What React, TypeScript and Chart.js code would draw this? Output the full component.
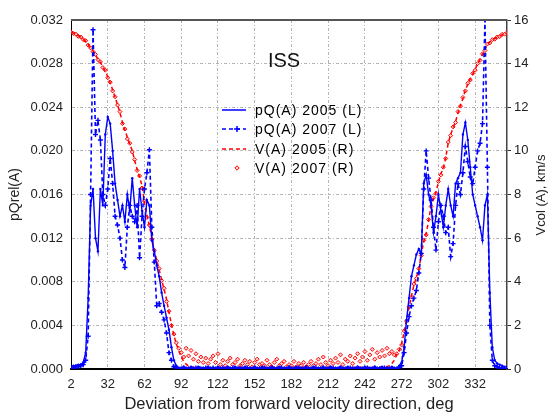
import { useEffect, useRef } from 'react';
import { Chart, registerables } from 'chart.js';

Chart.register(...registerables);

// ---------- data ----------
const degrees = [
  2, 4, 6, 8, 10, 12, 14, 16, 18, 20,
  22, 24, 26, 28, 30, 32, 34, 36, 38, 40,
  42, 44, 46, 48, 50, 52, 54, 56, 58, 60,
  62, 64, 66, 68, 70, 72, 74, 76, 78, 80,
  82, 84, 86, 88, 90, 92, 94, 96, 98, 100,
  102, 104, 106, 108, 110, 112, 114, 116, 118, 120,
  122, 124, 126, 128, 130, 132, 134, 136, 138, 140,
  142, 144, 146, 148, 150, 152, 154, 156, 158, 160,
  162, 164, 166, 168, 170, 172, 174, 176, 178, 180,
  182, 184, 186, 188, 190, 192, 194, 196, 198, 200,
  202, 204, 206, 208, 210, 212, 214, 216, 218, 220,
  222, 224, 226, 228, 230, 232, 234, 236, 238, 240,
  242, 244, 246, 248, 250, 252, 254, 256, 258, 260,
  262, 264, 266, 268, 270, 272, 274, 276, 278, 280,
  282, 284, 286, 288, 290, 292, 294, 296, 298, 300,
  302, 304, 306, 308, 310, 312, 314, 316, 318, 320,
  322, 324, 326, 328, 330, 332, 334, 336, 338, 340,
  342, 344, 346, 348, 350, 352, 354, 356, 358,
];

const pQ2005 = [
  .0002, .0003, .0003, .0004, .0004, .0006, .0015, .0065, .0150, .0165,
  .0120, .0108, .0165, .0150, .0215, .0231, .0225, .0200, .0170, .0155,
  .0140, .0150, .0135, .0160, .0145, .0175, .0150, .0130, .0165, .0145,
  .0130, .0155, .0150, .0118, .0108, .0095, .0085, .0070, .0058, .0047,
  .0036, .0020, .0008, .0003, .0001, .0001, .0002, .0001, .0001, .0002,
  .0001, .0001, .0002, .0001, .0001, .0001, .0002, .0001, .0001, .0001,
  .0002, .0001, .0001, .0001, .0002, .0001, .0001, .0002, .0001, .0001,
  .0001, .0002, .0001, .0001, .0001, .0002, .0001, .0001, .0002, .0001,
  .0001, .0001, .0002, .0001, .0001, .0002, .0001, .0001, .0001, .0002,
  .0001, .0001, .0002, .0001, .0001, .0001, .0002, .0001, .0001, .0002,
  .0001, .0001, .0001, .0002, .0001, .0001, .0002, .0001, .0001, .0001,
  .0002, .0001, .0001, .0002, .0001, .0001, .0001, .0002, .0001, .0001,
  .0002, .0001, .0001, .0001, .0002, .0001, .0001, .0002, .0001, .0001,
  .0001, .0002, .0001, .0001, .0003, .0006, .0020, .0045, .0065, .0085,
  .0095, .0105, .0110, .0105, .0170, .0178, .0160, .0150, .0125, .0140,
  .0160, .0145, .0130, .0150, .0165, .0150, .0140, .0170, .0175, .0180,
  .0215, .0226, .0210, .0185, .0160, .0150, .0140, .0130, .0118, .0150,
  .0160, .0070, .0020, .0008, .0005, .0004, .0003, .0002, .0002,
];

const pQ2007 = [
  0, .0001, .0002, .0002, .0003, .0004, .0008, .0030, .0160, .0311,
  .0215, .0228, .0210, .0160, .0150, .0165, .0193, .0170, .0140, .0132,
  .0120, .0100, .0093, .0130, .0150, .0140, .0135, .0150, .0102, .0140,
  .0165, .0180, .0201, .0130, .0098, .0058, .0060, .0052, .0045, .0033,
  .0015, .0008, .0002, .0001, 0, 0, .0001, 0, 0, 0,
  0, .0001, 0, 0, 0, .0001, 0, 0, .0001, 0,
  0, 0, .0001, 0, 0, 0, .0001, 0, 0, .0001,
  0, 0, .0001, 0, 0, .0001, 0, 0, 0, .0001,
  0, 0, .0001, 0, 0, 0, .0001, 0, 0, .0001,
  0, 0, 0, .0001, 0, 0, .0001, 0, 0, 0,
  .0001, 0, 0, .0001, 0, 0, 0, .0001, 0, 0,
  .0001, 0, 0, 0, .0001, 0, 0, .0001, 0, 0,
  0, .0001, 0, 0, .0001, 0, 0, 0, .0001, 0,
  0, 0, 0, 0, .0001, .0003, .0015, .0033, .0048, .0058,
  .0065, .0072, .0088, .0106, .0165, .0200, .0175, .0155, .0130, .0109,
  .0135, .0150, .0140, .0125, .0130, .0103, .0115, .0150, .0170, .0160,
  .0180, .0204, .0190, .0176, .0170, .0185, .0200, .0207, .0225, .0320,
  .0185, .0040, .0008, .0003, .0002, .0001, .0001, 0, 0,
];

const v2005 = [
  15.42, 15.40, 15.33, 15.28, 15.20, 15.12, 15.02, 14.88, 14.70, 14.58,
  14.40, 14.20, 14.05, 13.85, 13.65, 13.40, 13.12, 12.80, 12.45, 12.12,
  11.75, 11.30, 10.95, 10.62, 10.30, 10.02, 9.55, 9.15, 8.80, 8.40,
  7.60, 7.05, 6.55, 6.05, 5.40, 5.00, 4.55, 4.10, 3.65, 3.20,
  2.60, 2.05, 1.55, 1.15, 0.85, 0.55, 0.35, 0.22, 0.14, 0.10,
  0.08, 0.07, 0.09, 0.06, 0.08, 0.07, 0.06, 0.08, 0.07, 0.06,
  0.07, 0.06, 0.08, 0.06, 0.05, 0.07, 0.06, 0.05, 0.06, 0.07,
  0.05, 0.06, 0.05, 0.07, 0.05, 0.06, 0.05, 0.05, 0.06, 0.05,
  0.05, 0.06, 0.05, 0.05, 0.06, 0.05, 0.05, 0.05, 0.06, 0.05,
  0.05, 0.05, 0.06, 0.05, 0.05, 0.06, 0.05, 0.05, 0.06, 0.05,
  0.06, 0.05, 0.05, 0.06, 0.05, 0.06, 0.07, 0.05, 0.06, 0.06,
  0.07, 0.06, 0.06, 0.07, 0.06, 0.08, 0.07, 0.06, 0.08, 0.07,
  0.08, 0.07, 0.09, 0.08, 0.07, 0.09, 0.08, 0.10, 0.09, 0.11,
  0.15, 0.25, 0.40, 0.65, 0.85, 1.15, 1.70, 2.25, 2.80, 3.35,
  3.85, 4.20, 4.55, 5.25, 5.85, 6.20, 6.80, 7.50, 7.80, 8.10,
  8.55, 8.95, 9.20, 9.70, 10.35, 10.75, 11.05, 11.35, 11.75, 12.10,
  12.40, 12.80, 13.05, 13.30, 13.52, 13.75, 13.97, 14.20, 14.42, 14.65,
  14.87, 15.00, 15.08, 15.15, 15.20, 15.26, 15.32, 15.36, 15.40,
];

const v2007 = [
  15.45, 15.38, 15.35, 15.25, 15.22, 15.10, 15.05, 14.85, 14.72, 14.55,
  14.42, 14.18, 14.08, 13.82, 13.70, 13.35, 13.15, 12.75, 12.48, 12.10,
  11.80, 11.25, 11.00, 10.55, 10.35, 9.95, 9.60, 9.10, 8.85, 8.30,
  7.70, 6.95, 6.60, 5.95, 5.45, 4.95, 4.60, 4.05, 3.70, 3.10,
  2.65, 2.00, 1.60, 1.20, 0.95, 0.75, 0.55, 0.95, 0.60, 0.85,
  0.45, 0.70, 0.35, 0.55, 0.30, 0.50, 0.25, 0.45, 0.60, 0.30,
  0.70, 0.20, 0.40, 0.15, 0.35, 0.50, 0.20, 0.30, 0.45, 0.15,
  0.25, 0.40, 0.20, 0.35, 0.10, 0.30, 0.45, 0.20, 0.25, 0.15,
  0.40, 0.20, 0.10, 0.30, 0.45, 0.15, 0.25, 0.35, 0.10, 0.20,
  0.15, 0.35, 0.10, 0.25, 0.15, 0.30, 0.10, 0.20, 0.35, 0.15,
  0.25, 0.45, 0.20, 0.55, 0.30, 0.15, 0.40, 0.25, 0.50, 0.30,
  0.65, 0.20, 0.45, 0.35, 0.60, 0.25, 0.50, 0.70, 0.35, 0.55,
  0.80, 0.40, 0.65, 0.90, 0.45, 0.75, 0.55, 0.85, 0.60, 0.95,
  0.70, 0.80, 0.65, 0.70, 0.90, 1.10, 1.75, 2.20, 2.85, 3.30,
  3.90, 4.15, 4.60, 5.20, 5.90, 6.15, 6.85, 7.45, 7.85, 8.05,
  8.60, 8.90, 9.25, 9.65, 10.40, 10.70, 11.10, 11.30, 11.80, 12.05,
  12.45, 12.75, 13.10, 13.25, 13.55, 13.70, 14.00, 14.15, 14.45, 14.60,
  14.90, 14.95, 15.10, 15.12, 15.22, 15.24, 15.34, 15.35, 15.42,
];

const xTicks = [2, 32, 62, 92, 122, 152, 182, 212, 242, 272, 302, 332];
const yLeftTicks = [0, 0.004, 0.008, 0.012, 0.016, 0.02, 0.024, 0.028, 0.032];
const yRightTicks = [0, 2, 4, 6, 8, 10, 12, 14, 16];

const seriesNames = ['pQ(A) 2005 (L)', 'pQ(A) 2007 (L)', 'V(A) 2005 (R)', 'V(A) 2007 (R)'];
const chartTitle = 'ISS';
const xTitle = 'Deviation from forward velocity direction, deg';
const yLeftTitle = 'pQrel(A)';
const yRightTitle = 'Vcol (A), km/s';

const FONT = "'Liberation Sans', Arial, sans-serif";
const BLUE = '#0000ff';
const RED = '#ff0000';

const toPoints = (ys: number[]) => degrees.map((x, i) => ({ x, y: ys[i] }));

const overlayPlugin = {
  id: 'overlay',
  afterDraw(chart: any) {
    const { ctx, chartArea: a } = chart;
    ctx.save();
    // top frame line
    ctx.strokeStyle = '#555';
    ctx.lineWidth = 2;
    ctx.beginPath();
    ctx.moveTo(a.left, a.top);
    ctx.lineTo(a.right, a.top);
    ctx.stroke();

    // title inside plot
    ctx.fillStyle = '#111';
    ctx.textAlign = 'center';
    ctx.textBaseline = 'middle';
    ctx.font = `20px ${FONT}`;
    ctx.fillText(chartTitle, 284, 61);

    // legend
    const rows = [110, 129, 149, 168];
    const x0 = 222, x1 = 246, tx = 255;
    ctx.textAlign = 'left';
    ctx.font = `14px ${FONT}`;
    (ctx as any).letterSpacing = '1px';
    rows.forEach((y, i) => {
      ctx.save();
      ctx.lineWidth = 1.5;
      if (i === 0) {
        ctx.strokeStyle = BLUE;
        ctx.beginPath(); ctx.moveTo(x0, y); ctx.lineTo(x1, y); ctx.stroke();
      } else if (i === 1) {
        ctx.strokeStyle = BLUE;
        ctx.setLineDash([4, 3]);
        ctx.beginPath(); ctx.moveTo(x0, y); ctx.lineTo(x1, y); ctx.stroke();
        ctx.setLineDash([]);
        ctx.beginPath();
        ctx.moveTo(234, y); ctx.lineTo(240, y);
        ctx.moveTo(237, y - 3); ctx.lineTo(237, y + 3);
        ctx.stroke();
      } else if (i === 2) {
        ctx.strokeStyle = RED;
        ctx.setLineDash([4, 3]);
        ctx.beginPath(); ctx.moveTo(x0, y); ctx.lineTo(x1, y); ctx.stroke();
      } else {
        ctx.strokeStyle = RED;
        ctx.fillStyle = 'rgba(255,180,180,0.6)';
        ctx.lineWidth = 1;
        ctx.beginPath();
        ctx.moveTo(237, y - 2.2); ctx.lineTo(239.2, y); ctx.lineTo(237, y + 2.2); ctx.lineTo(234.8, y);
        ctx.closePath(); ctx.fill(); ctx.stroke();
      }
      ctx.restore();
      ctx.fillStyle = '#000';
      ctx.fillText(seriesNames[i], tx, y + 1);
    });
    (ctx as any).letterSpacing = '0px';

    // right axis title (reads bottom to top)
    ctx.translate(541, 195);
    ctx.rotate(-Math.PI / 2);
    ctx.textAlign = 'center';
    ctx.font = `13px ${FONT}`;
    ctx.fillStyle = '#222';
    ctx.fillText(yRightTitle, 0, 0);
    ctx.restore();
  },
};

export default function App() {
  const canvasRef = useRef<HTMLCanvasElement | null>(null);

  useEffect(() => {
    document.body.style.margin = '0';
    const canvas = canvasRef.current;
    if (!canvas) return;
    const gridDash = [3, 2, 1, 2];
    const chart = new Chart(canvas, {
      type: 'line',
      data: {
        datasets: [
          {
            label: seriesNames[0],
            data: toPoints(pQ2005),
            yAxisID: 'yL',
            borderColor: BLUE,
            backgroundColor: BLUE,
            borderWidth: 1.4,
            pointRadius: 1.2,
            pointBorderWidth: 0,
            pointBackgroundColor: BLUE,
            tension: 0,
          },
          {
            label: seriesNames[1],
            data: toPoints(pQ2007),
            yAxisID: 'yL',
            borderColor: BLUE,
            backgroundColor: BLUE,
            borderWidth: 1.6,
            borderDash: [4, 3],
            pointStyle: 'cross',
            pointRadius: 2.5,
            pointBorderWidth: 1.4,
            pointBorderColor: BLUE,
            tension: 0,
          },
          {
            label: seriesNames[2],
            data: toPoints(v2005),
            yAxisID: 'yR',
            borderColor: RED,
            backgroundColor: RED,
            borderWidth: 1.5,
            borderDash: [4, 3],
            pointRadius: 0,
            tension: 0,
          },
          {
            label: seriesNames[3],
            data: toPoints(v2007),
            yAxisID: 'yR',
            showLine: false,
            borderColor: RED,
            backgroundColor: 'rgba(255,180,180,0.6)',
            pointStyle: 'rectRot',
            pointRadius: 2,
            pointBorderWidth: 1,
            pointBorderColor: RED,
            pointBackgroundColor: 'rgba(255,180,180,0.6)',
          },
        ],
      },
      options: {
        responsive: false,
        animation: false,
        devicePixelRatio: 1,
        layout: { padding: { top: 20, left: 0, right: 0, bottom: 0 } },
        plugins: {
          legend: { display: false },
          tooltip: { enabled: false },
        },
        scales: {
          x: {
            type: 'linear',
            position: 'bottom',
            min: 2,
            max: 358,
            afterBuildTicks: (s: any) => { s.ticks = xTicks.map((value) => ({ value })); },
            afterFit: (s: any) => { s.height = 47; },
            ticks: {
              autoSkip: false,
              maxRotation: 0,
              padding: 8,
              color: '#222',
              font: { family: FONT, size: 13 },
              callback: (v: any) => String(v),
            },
            grid: { color: '#b4b4b4', lineWidth: 1, drawTicks: false },
            border: { color: '#000', width: 2, dash: gridDash },
            title: {
              display: true,
              text: xTitle,
              color: '#222',
              font: { family: FONT, size: 16.5 },
              padding: { top: 0, bottom: 2 },
            },
          },
          yL: {
            type: 'linear',
            position: 'left',
            min: 0,
            max: 0.032,
            afterBuildTicks: (s: any) => { s.ticks = yLeftTicks.map((value) => ({ value })); },
            afterFit: (s: any) => { s.width = 71; },
            ticks: {
              padding: 8,
              color: '#222',
              font: { family: FONT, size: 13 },
              callback: (v: any) => Number(v).toFixed(3),
            },
            grid: { color: '#b4b4b4', lineWidth: 1, drawTicks: false },
            border: { color: '#000', width: 1, dash: gridDash },
            title: {
              display: true,
              text: yLeftTitle,
              color: '#222',
              font: { family: FONT, size: 14 },
              padding: { top: 7, bottom: 0 },
            },
          },
          yR: {
            type: 'linear',
            position: 'right',
            min: 0,
            max: 16,
            afterBuildTicks: (s: any) => { s.ticks = yRightTicks.map((value) => ({ value })); },
            afterFit: (s: any) => { s.width = 44; },
            ticks: {
              padding: 3,
              color: '#222',
              font: { family: FONT, size: 13 },
              callback: (v: any) => String(v),
            },
            grid: { drawOnChartArea: false, drawTicks: true, tickLength: 4, tickColor: '#333' },
            border: { color: '#444', width: 1.5 },
          },
        },
      },
      plugins: [overlayPlugin],
    } as any);
    return () => chart.destroy();
  }, []);

  return <canvas ref={canvasRef} width={551} height={416} style={{ display: 'block' }} />;
}
